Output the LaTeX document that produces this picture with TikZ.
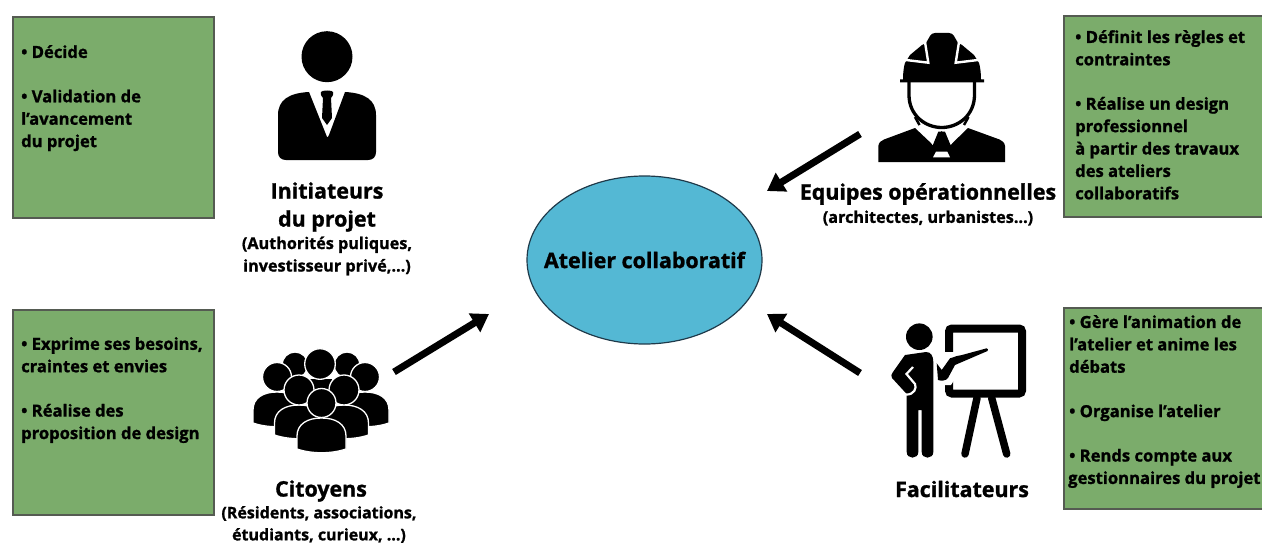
\documentclass[tikz,border=0pt]{standalone}
\usepackage{fontspec}
\setmainfont{Open Sans}[BoldFeatures={FakeBold=1.2}]
\usetikzlibrary{arrows.meta,shapes.geometric}
\definecolor{boxgreen}{HTML}{7BAC6B}
\definecolor{boxedge}{HTML}{555B52}
\definecolor{atelierblue}{HTML}{54B8D4}
\definecolor{atelieredge}{HTML}{1F3A4A}
\tikzset{
  rolebox/.style={draw=boxedge,fill=boxgreen,line width=1.5pt,anchor=north west,inner sep=0pt,outer sep=0pt},
  boxtext/.style={anchor=north west,align=left,font=\fontsize{16.6}{22.4}\selectfont\bfseries,inner sep=0pt},
  roletext/.style={align=center,font=\fontsize{21.4}{28}\selectfont\bfseries,inner sep=0pt},
  subtext/.style={align=center,font=\fontsize{16.2}{22.5}\selectfont\bfseries,inner sep=0pt},
  bigarrow/.style={line width=7pt,-{Triangle[length=17pt,width=21pt]}},
  crowdpart/.style={fill=black,draw=white,line width=1.3pt},
}
\begin{document}
\begin{tikzpicture}[x=1pt,y=-1pt]
\useasboundingbox (0,0) rectangle (1262,543);
% boxes
\node[rolebox,minimum width=201pt,minimum height=201pt] (boxinit) at (13,17) {};
\node[rolebox,minimum width=199pt,minimum height=201pt] (boxequipe) at (1064,16) {};
\node[rolebox,minimum width=201pt,minimum height=205pt] (boxcit) at (13,310) {};
\node[rolebox,minimum width=199pt,minimum height=201pt] (boxfacil) at (1064,308) {};
\node[boxtext] (txtinit) at (21,45) {• Décide\\[22pt]• Validation de\\l’avancement\\du projet};
\node[boxtext] (txtequipe) at (1075,30) {• Définit les règles et\\contraintes\\[22pt]• Réalise un design\\professionnel\\à partir des travaux\\des ateliers\\collaboratifs};
\node[boxtext] (txtcit) at (21,337) {• Exprime ses besoins,\\craintes et envies\\[22pt]• Réalise des\\proposition de design};
\node[boxtext] (txtfacil) at (1068,315) {\hspace{1pt}• Gère l’animation de\\\hspace{1pt}l’atelier et anime les\\\hspace{1pt}débats\\[22pt]\hspace{1pt}• Organise l’atelier\\[22pt]\hspace{1pt}• Rends compte aux\\gestionnaires du projet};
% centre
\node[draw=atelieredge,fill=atelierblue,line width=1.2pt,ellipse,minimum width=235pt,minimum height=168pt,inner sep=0pt,
  label={[font=\fontsize{21.4}{24}\selectfont\bfseries,inner sep=0pt]center:Atelier collaboratif}] (atelier) at (644.5,260) {};
% labels
\node[roletext] (lblinit) at (327,207) {Initiateurs\\du projet};
\node[subtext] (subinit) at (327,256) {(Authorités puliques,\\investisseur privé,...)};
\node[roletext] (lblequipe) at (928,194) {Equipes opérationnelles};
\node[subtext] (subequipe) at (928,218) {(architectes, urbanistes...)};
\node[roletext] (lblcit) at (321,491) {Citoyens};
\node[subtext,font=\fontsize{16}{22}\selectfont\bfseries] (subcit) at (319,524.5) {(Résidents, associations,\\étudiants, curieux, ...)};
\node[roletext] (lblfacil) at (962,489) {Facilitateurs};
% arrows
\coordinate (startequipe) at (860,134);
\coordinate (endequipe) at (767,191);
\coordinate (startcit) at (394,372);
\coordinate (endcit) at (489,314);
\coordinate (startfacil) at (860,373);
\coordinate (endfacil) at (767,314);
\draw[bigarrow] (startequipe) -- (endequipe);
\draw[bigarrow] (startcit) -- (endcit);
\draw[bigarrow] (startfacil) -- (endfacil);
% initiateur
\fill (327,56.7) circle (25.5);
\fill (309,92) -- (327,137) .. controls (328,137) and (328,137) .. (329,135) -- (345,92)
  .. controls (365,93) and (376,100) .. (376,115) -- (376,152) .. controls (376,157) and (373,160) .. (368,160)
  -- (286,160) .. controls (281,160) and (278,157) .. (278,152) -- (278,115) .. controls (278,100) and (289,93) .. (309,92) -- cycle;
\fill (321,92) .. controls (321,90) and (333,90) .. (333,92) .. controls (334,96) and (331,97) .. (331,98)
  -- (332,118) -- (327,125) -- (322,118) -- (323,98) .. controls (323,97) and (320,96) .. (321,92) -- cycle;
% equipe
\fill (900,79.5) -- (903,79.5) .. controls (903,72) and (904,66) .. (905,63) -- (910,55) -- (922,45) -- (926,43)
  -- (930,36) .. controls (931,34) and (933,33) .. (935,33) -- (949,33) .. controls (951,33) and (953,34) .. (954,36)
  -- (958,43) -- (962,45) -- (974,55) -- (979,63) .. controls (980,66) and (981,72) .. (981,79.5) -- (984,79.5)
  -- (984,82.5) -- (900,82.5) -- cycle;
\draw[white,line width=2.4pt] (906,60) -- (928.3,62.7) -- (925,42);
\draw[white,line width=2.4pt] (978,60) -- (955.7,62.7) -- (959,42);
\fill (878.3,162) -- (878.3,146) .. controls (879,142) and (881,141) .. (884,139.5) -- (915,128) -- (933,145) -- (941.7,131) -- (950.5,145) -- (968,128)
  -- (999.5,139.5) .. controls (1002,141) and (1004.5,142) .. (1005,146) -- (1005,162) -- cycle;
\fill[white] (919,123) -- (932.7,145) -- (938.3,131.7) -- (928,128) -- cycle;
\fill[white] (964.4,123) -- (950.7,145) -- (945,131.7) -- (955.4,128) -- cycle;
\fill (938.3,131.7) -- (945,131.7) -- (950.5,145) -- (932.9,145) -- cycle;
\fill[white] (936,151.7) -- (947.3,151.7) -- (950,157.3) -- (933,157.3) -- cycle;
\draw[line width=3.3pt] (909,82) -- (909,95) .. controls (909,115) and (925,127.5) .. (941.7,127.5) .. controls (958.5,127.5) and (974.5,115) .. (974.5,95) -- (974.5,82);
\draw[line width=2.5pt] (915,117) -- (919.5,125);
\draw[line width=2.5pt] (968.5,117) -- (964,125);
% citoyens
\foreach \hx/\hy in {295/365, 347/365} {
  \fill[crowdpart] (\hx,\hy) circle (13);
}
\fill (309,379) rectangle (332,392);
\fill[crowdpart] (320,364) circle (15.3);
\foreach \hx/\hy/\bw/\ty/\bb/\hr in {277/377/24/392/427/14.5, 365/377/24/392/427/14.5, 299/390/24.5/405/439/15, 344/390/24.5/405/439/15, 321.5/403/24.5/418/453/14.5} {
  \fill[crowdpart] (\hx-\bw,\bb-4) -- (\hx-\bw,\ty+18) .. controls (\hx-\bw,\ty+6) and (\hx-14,\ty) .. (\hx,\ty)
    .. controls (\hx+14,\ty) and (\hx+\bw,\ty+6) .. (\hx+\bw,\ty+18) -- (\hx+\bw,\bb-4) .. controls (\hx+10,\bb+1) and (\hx-10,\bb+1) .. (\hx-\bw,\bb-4) -- cycle;
  \fill[crowdpart] (\hx,\hy) circle (\hr);
}
% facilitateur
\fill (919.3,336.7) circle (13.3);
\fill (905,355) -- (926,352) .. controls (931,352) and (933.3,356) .. (933.3,362) -- (933.3,452) .. controls (933.3,459.5) and (921.7,459.5) .. (921.7,452) -- (921.7,410) -- (918.3,410)
  -- (918.3,452) .. controls (918.3,459.5) and (906.7,459.5) .. (906.7,452) -- (906.7,394) -- (892,378) .. controls (891,376) and (891,374) .. (893,372) -- cycle;
\draw[white,line width=2.2pt] (913,367) -- (906.5,374) -- (915,384) .. controls (917,388) and (914,395) .. (906,394.5);
\draw[line width=8pt,rounded corners=3pt] (949,359) -- (949,328.5) -- (1022,328.5) -- (1022,393.5) -- (949,393.5) -- (949,381);
\fill[white] (944,352) -- (958,352) -- (986,345) -- (988,352) -- (962,368) -- (951,385) -- (936,385) -- cycle;
\fill (936.7,363.3) -- (941.7,370) -- (950,358.3) .. controls (955,357) and (958,355) .. (962,355) -- (986.7,348.3) .. controls (988,348) and (988.5,350.5) .. (987.5,351) -- (955,365) -- (948,378)
  .. controls (946,381) and (941,381) .. (938,380) -- cycle;
\draw[line width=7.5pt,line cap=round] (977,398) -- (965,454);
\draw[line width=7.5pt,line cap=round] (991.7,398) -- (1006.7,454);
\end{tikzpicture}
\end{document}
